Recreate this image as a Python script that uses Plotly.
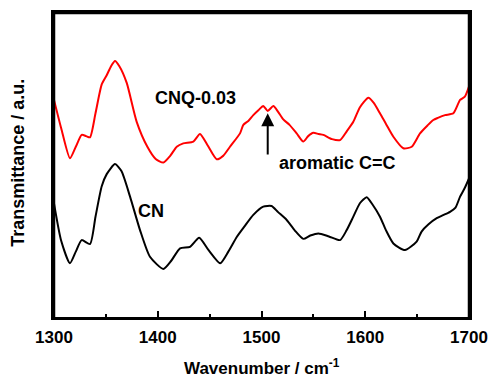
import plotly.graph_objects as go

# Wavenumber (cm^-1) and transmittance (a.u.)
cnq_x = [1300, 1307, 1315.4, 1321, 1326.7, 1331, 1334.7, 1340, 1346, 1350.8, 1355, 1358.8, 1363, 1370.1, 1379.7,
         1390, 1398, 1405.4, 1412, 1418.3, 1424.6, 1434.3, 1440.7, 1448, 1456.8, 1463, 1469.6, 1479.3, 1482.5,
         1487.3, 1492.1, 1497, 1501.7, 1506, 1511.4, 1516, 1521, 1527, 1533.9, 1540.3, 1545, 1549.9, 1555,
         1559.6, 1568, 1575.7, 1582, 1588.5, 1594.9, 1603, 1608, 1614.2, 1620, 1627.1, 1636.7, 1644.8, 1652.8,
         1660, 1665.6, 1670, 1676.9, 1684.9, 1691.4, 1696, 1700]
cnq_y = [71.4, 62, 52.2, 56, 59.9, 59.5, 59.1, 67, 76.5, 79.5, 82.5, 84.2, 82.5, 77, 64.2,
         56, 52, 50.8, 53, 56, 57.1, 57.7, 60.2, 56.5, 51.9, 53, 56, 60.4, 63.2,
         64.5, 66.4, 68, 69.4, 67.8, 69.4, 67.5, 65, 63.2, 60.4, 57.7, 59.5, 60.6, 60.2,
         59.9, 58.5, 58.2, 61, 64.2, 69, 72.1, 70.5, 67, 63.5, 59.3, 55.5, 56, 60.4,
         63, 64.8, 65.5, 66.4, 67, 71.4, 72.5, 75.8]

cn_x = [1300, 1307, 1315.4, 1321, 1326.7, 1334.7, 1340, 1346, 1350.8, 1358.8, 1365, 1373.3, 1382.9, 1392.5,
        1405.4, 1413, 1421.5, 1431.1, 1439.9, 1449, 1460.2, 1468, 1476.3, 1484, 1492.1, 1501.7, 1509.7, 1516,
        1524.3, 1532, 1540.3, 1547, 1554.8, 1565, 1575.7, 1582, 1588.5, 1595, 1601.4, 1607, 1614.2, 1620,
        1627.1, 1638.3, 1649.5, 1654.3, 1661, 1668.9, 1675, 1681.7, 1687, 1691.4, 1696, 1700]
cn_y = [37.4, 25, 17.7, 21.5, 25.3, 24, 33, 43, 47, 50.3, 48, 39.6, 28.6, 19.8,
        15.8, 18.5, 22.6, 23.1, 26.1, 22, 17.7, 21.5, 26.4, 30, 33.6, 36.3, 36.5, 34.5,
        31.9, 28.5, 25.7, 26.8, 27.5, 26.5, 25.3, 28.5, 33, 37.5, 39.4, 37, 33, 28.5,
        24.2, 22, 24.8, 28.1, 30.5, 32.5, 33.5, 34.6, 36, 39.6, 42.5, 45.6]

x_ticks = [1300, 1400, 1500, 1600, 1700]
labels = ["CNQ-0.03", "CN", "aromatic C=C"]
x_title = "Wavenumber / cm<sup>-1</sup>"
y_title = "Transmittance / a.u."

FONT = "Liberation Sans, Arial, sans-serif"

fig = go.Figure()
fig.add_trace(go.Scatter(x=cnq_x, y=cnq_y, mode="lines", line=dict(color="#ff0000", width=2, shape="spline", smoothing=0.6),
                         name="CNQ-0.03", showlegend=False))
fig.add_trace(go.Scatter(x=cn_x, y=cn_y, mode="lines", line=dict(color="#000000", width=2, shape="spline", smoothing=0.6),
                         name="CN", showlegend=False))

fig.add_annotation(x=1435.9, y=72.1, text="<b>" + labels[0] + "</b>", showarrow=False,
                   font=dict(family=FONT, size=18, color="black"))
fig.add_annotation(x=1393.8, y=35, text="<b>" + labels[1] + "</b>", showarrow=False,
                   font=dict(family=FONT, size=18, color="black"))
fig.add_annotation(x=1573.7, y=50.6, text="<b>" + labels[2] + "</b>", showarrow=False,
                   font=dict(family=FONT, size=18, color="black"))
# arrow
fig.add_annotation(x=1506, y=67, ax=1506, ay=53, xref="x", yref="y", axref="x", ayref="y",
                   text="", showarrow=True, arrowhead=2, arrowsize=1.3, arrowwidth=2, arrowcolor="black")

# axis titles
fig.add_annotation(x=0.5, y=-0.165, xref="paper", yref="paper", xanchor="center", yanchor="middle",
                   text="<b>" + x_title + "</b>",
                   showarrow=False, font=dict(family=FONT, size=17, color="black"))
fig.add_annotation(x=-0.087, y=0.507, xref="paper", yref="paper", xanchor="center", yanchor="middle",
                   text="<b>" + y_title + "</b>",
                   showarrow=False, textangle=-90, font=dict(family=FONT, size=18, color="black"))

# frame (top and right edges, plus left, drawn explicitly)
fig.add_shape(type="line", xref="paper", yref="paper", x0=0, y0=1, x1=1, y1=1,
              line=dict(color="black", width=2.5), layer="above")
fig.add_shape(type="line", xref="paper", yref="paper", x0=1, y0=0, x1=1, y1=1,
              line=dict(color="black", width=2.5), layer="above")
fig.add_shape(type="line", xref="paper", yref="paper", x0=0, y0=0, x1=0, y1=1,
              line=dict(color="black", width=2.5), layer="above")

fig.update_layout(
    width=489, height=379,
    margin=dict(l=54, r=20, t=13, b=62, autoexpand=False),
    plot_bgcolor="white", paper_bgcolor="white",
    font=dict(family=FONT, size=17, color="black"),
    xaxis=dict(range=[1300, 1700], tickvals=x_ticks, ticktext=["<b>%d</b>" % v for v in x_ticks],
               ticks="inside", ticklen=6, tickwidth=2, tickcolor="black", ticklabelstandoff=3,
               minor=dict(dtick=50, ticks="inside", ticklen=3, tickwidth=2, tickcolor="black"),
               showline=True, linewidth=2.5, linecolor="black", mirror=True, showgrid=False, zeroline=False,
               tickfont=dict(size=17), automargin=False),
    yaxis=dict(range=[0, 100], showticklabels=False, ticks="", showline=True, linewidth=2.5, linecolor="black",
               mirror=True, showgrid=False, zeroline=False, automargin=False),
)

fig.write_html("out.html", config={"displayModeBar": False})

# remove the default page margin so the figure sits at the window's top-left corner
with open("out.html", "r", encoding="utf-8") as f:
    html = f.read()
html = html.replace("<head>", "<head><style>html,body{margin:0;padding:0;overflow:hidden;}</style>", 1)
with open("out.html", "w", encoding="utf-8") as f:
    f.write(html)
